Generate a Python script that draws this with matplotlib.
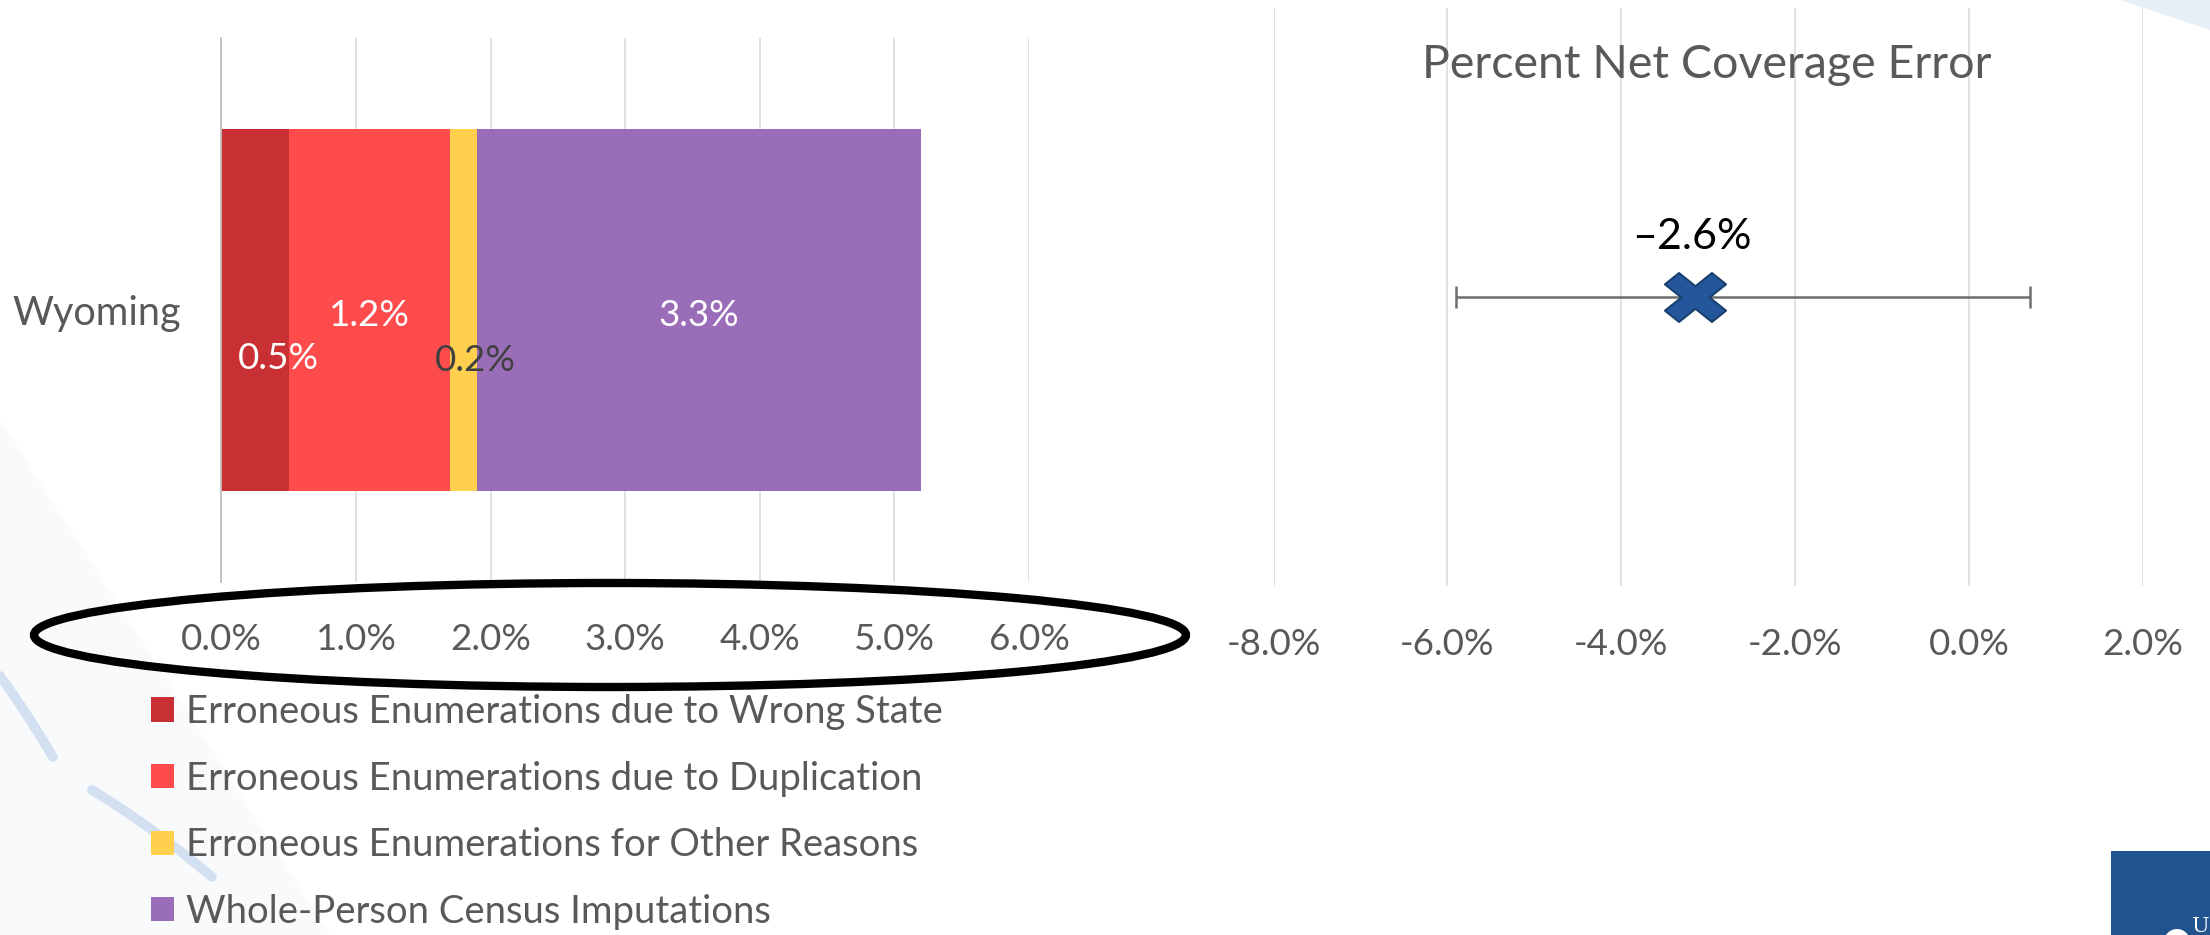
import matplotlib
matplotlib.use('Agg')
import matplotlib.pyplot as plt
from matplotlib.patches import Ellipse, Rectangle, Circle, Polygon
from matplotlib.path import Path
from matplotlib.ticker import FuncFormatter, MultipleLocator
import numpy as np

# data (percent)
states = ['Wyoming']
components = ['Erroneous Enumerations due to Wrong State',
              'Erroneous Enumerations due to Duplication',
              'Erroneous Enumerations for Other Reasons',
              'Whole-Person Census Imputations']
comp_values = [0.5, 1.2, 0.2, 3.3]
comp_colors = ['#C93033', '#FE4C4C', '#FFD04D', '#9A6DB8']
label_colors = ['white', 'white', '#404040', 'white']
label_nudge = [(23, -59), (0, -16), (12, -61), (0, -16)]  # pixels

net_coverage = -2.6
net_moe = 3.3
marker_drawn_at = -3.15   # the X sits left of the estimate in the original
net_label = '\u20132.6%'

W, H = 2210, 935
def fx(px):
    return px / W
def fy(py):
    return 1 - py / H

plt.rcParams['font.family'] = ['Lato', 'DejaVu Sans']
GRAY = '#595959'
GRID = '#D9D9D9'

fig = plt.figure(figsize=(W / 100, H / 100), dpi=100)
fig.patch.set_facecolor('white')

# faint background swooshes of the slide
bg = fig.add_axes([0, 0, 1, 1], zorder=-10)
bg.set_xlim(0, W)
bg.set_ylim(H, 0)
bg.axis('off')
bg.add_patch(Polygon([(0, 420), (0, 935), (330, 935)], closed=True,
                     color='#F8FAFC', lw=0))
t = np.linspace(0, 1, 30)
bg.plot(0 + 53 * t, 676 + 81 * t - 8 * t * (1 - t), color='#D3E0F1', lw=7,
        solid_capstyle='round')
bg.plot(92 + 120 * t, 790 + 87 * t - 14 * t * (1 - t), color='#D3E0F1', lw=7,
        solid_capstyle='round')
bg.add_patch(Polygon([(2120, 0), (2210, 0), (2210, 30)], closed=True,
                     color='#E6EEF7', lw=0))
bg.add_patch(Rectangle((2111, 851), 99, 84, color='#21548F', lw=0))
bg.add_patch(Circle((2177, 942), 13, color='white', lw=0))
bg.text(2192, 917, 'U', color='white', fontsize=15, family='DejaVu Serif',
        va='top', ha='left')

def pct(x, pos):
    v = round(x, 1) + 0.0
    return f'{v:.1f}%'

# left: stacked bar
ax1 = fig.add_axes([fx(221.3), fy(581.7), (1029 - 221.3) / W, (581.7 - 38) / H])
ax1.patch.set_alpha(0)
left = 0.0
for i, (name, v) in enumerate(zip(components, comp_values)):
    ax1.barh(0, v, left=left, height=0.667, color=comp_colors[i], label=name,
             zorder=2)
    ax1.annotate(f'{v:.1f}%', xy=(left + v / 2, 0), xytext=label_nudge[i],
                 textcoords='offset pixels', ha='center', va='baseline',
                 fontsize=26.5, color=label_colors[i], zorder=5)
    left += v
ax1.set_xlim(0, 6)
ax1.set_ylim(-0.5, 0.5)
ax1.set_yticks([0])
ax1.set_yticklabels(states)
ax1.xaxis.set_major_locator(MultipleLocator(1))
ax1.xaxis.set_major_formatter(FuncFormatter(pct))
ax1.grid(axis='x', color=GRID, lw=1.1, zorder=0)
ax1.set_axisbelow(True)
for s in ['top', 'right', 'bottom']:
    ax1.spines[s].set_visible(False)
ax1.spines['left'].set_color('#BFBFBF')
ax1.spines['left'].set_linewidth(1.3)
ax1.tick_params(axis='x', length=0, pad=30, labelsize=26.5, labelcolor=GRAY)
ax1.tick_params(axis='y', length=0, pad=29, labelsize=28.5, labelcolor=GRAY)

# right: net coverage error
ax2 = fig.add_axes([fx(1273.7), fy(586), (2142.6 - 1273.7) / W, (586 - 8) / H])
ax2.patch.set_alpha(0)
ax2.errorbar(net_coverage, 0, xerr=net_moe, fmt='none', ecolor='#6F6F6F',
             elinewidth=1.8, capsize=8, capthick=1.8, zorder=3)
L, w = 1.0, 0.3
plus = [(w, L), (w, w), (L, w), (L, -w), (w, -w), (w, -L), (-w, -L),
        (-w, -w), (-L, -w), (-L, w), (-w, w), (-w, L)]
verts = [((x - y) / np.sqrt(2), 0.8 * (x + y) / np.sqrt(2)) for x, y in plus]
xpath = Path(verts + [verts[0]],
             [Path.MOVETO] + [Path.LINETO] * (len(verts) - 1) + [Path.CLOSEPOLY])
ax2.plot(marker_drawn_at, 0, marker=xpath, ms=44, mfc='#23569A', mec='#1B4171',
         mew=1.5, ls='none', zorder=4)
ax2.annotate(net_label, xy=(marker_drawn_at, 0), xytext=(-3, 48),
             textcoords='offset pixels', ha='center', va='baseline',
             fontsize=31, color='black')
ax2.set_xlim(-8, 2)
ax2.set_ylim(-1, 1)
ax2.set_yticks([])
ax2.xaxis.set_major_locator(MultipleLocator(2))
ax2.xaxis.set_major_formatter(FuncFormatter(pct))
ax2.grid(axis='x', color=GRID, lw=1.1, zorder=0)
ax2.set_axisbelow(True)
for s in ax2.spines.values():
    s.set_visible(False)
ax2.tick_params(axis='x', length=0, pad=30, labelsize=26.5, labelcolor=GRAY)
fig.text(fx(1707), fy(78), 'Percent Net Coverage Error', ha='center',
         va='baseline', fontsize=33.5, color=GRAY)

# highlight around the left axis labels
fig.add_artist(Ellipse((fx(610), fy(635)), 1152 / W, 104 / H,
                       transform=fig.transFigure, fill=False, ec='black',
                       lw=6))

fig.legend(loc='upper left', bbox_to_anchor=(fx(150.7), fy(694)),
           frameon=False, fontsize=27.5, labelcolor=GRAY, handlelength=0.6,
           handleheight=0.6, handletextpad=0.33, labelspacing=0.8,
           borderpad=0, borderaxespad=0)

fig.savefig('out.png', dpi=100, facecolor='white')
